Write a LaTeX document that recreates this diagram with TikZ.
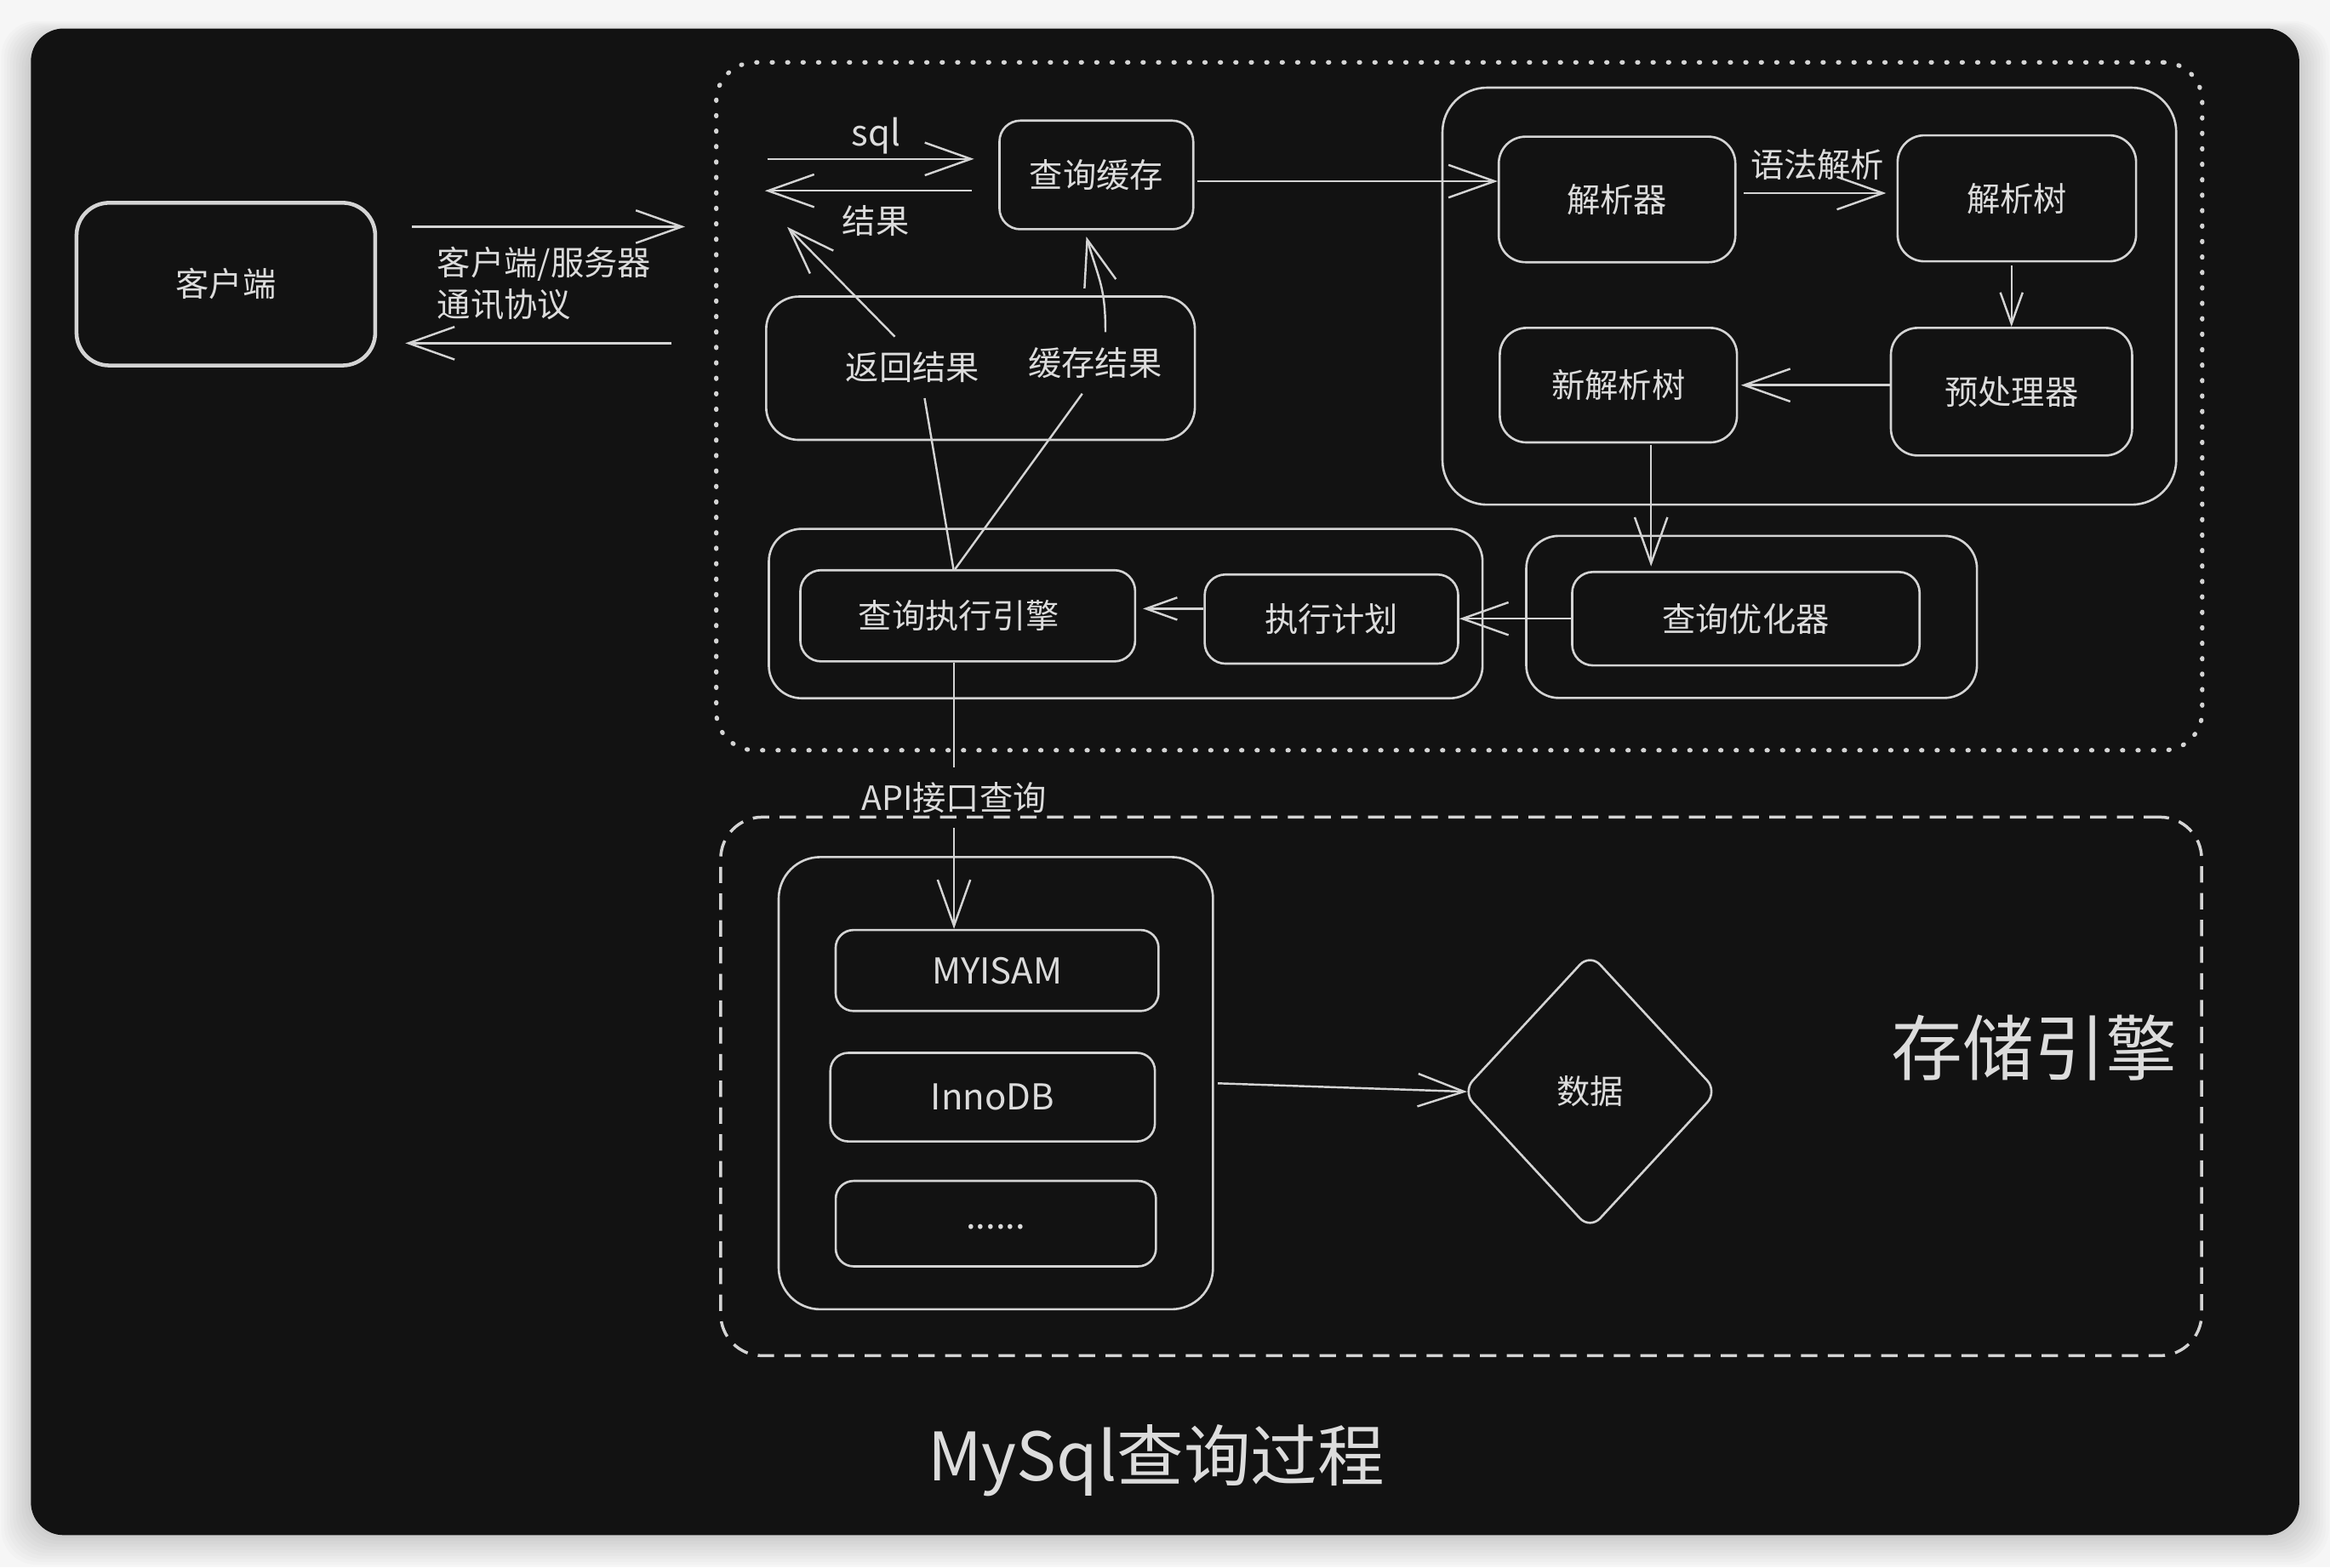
\documentclass[tikz,border=0pt]{standalone}
\usepackage{fontspec}
\setmainfont{Noto Sans CJK SC}
\usetikzlibrary{arrows.meta,shapes.geometric}
\definecolor{pagebg}{HTML}{F6F6F6}
\definecolor{panel}{HTML}{121212}
\definecolor{lc}{HTML}{D4D4D4}
\definecolor{tc}{HTML}{DCDCDC}
\newcommand\mylbl{\fontsize{22.5}{28}\selectfont}
\newcommand\mylat{\fontsize{24}{28}\selectfont}
\tikzset{
  box/.style={draw=lc, line width=1.5pt, rounded corners=14pt, text=tc, font=\mylbl, inner sep=0pt},
  grp/.style={draw=lc, line width=1.5pt, rounded corners=24pt, inner sep=0pt},
  lab/.style={text=tc, font=\mylbl, inner sep=0pt},
  ln/.style={draw=lc, line width=1.4pt},
  arr/.style={draw=lc, line width=1.4pt, -{Straight Barb[length=31pt,width=22pt]}},
  arrs/.style={draw=lc, line width=1.4pt, -{Straight Barb[length=21pt,width=15pt]}},
  dotbox/.style={draw=lc, line width=3pt, dash pattern=on 0.6pt off 9.8pt, line cap=round, rounded corners=26pt, inner sep=0pt},
  dashbox/.style={draw=lc, line width=2pt, dash pattern=on 11pt off 7pt, rounded corners=28pt, inner sep=0pt},
}
\begin{document}
\begin{tikzpicture}[x=1pt,y=-1pt]
\useasboundingbox (0,0) rectangle (1568,1055);
% page and panel
\fill[pagebg] (0,0) rectangle (1568,1055);
\foreach \s in {2,4,...,20}{
  \fill[black,opacity=0.016,rounded corners=24pt] (20.8-\s,19.2-0.5*\s+5) rectangle (1547.3+\s,1033.3+\s);
}
\fill[panel, rounded corners=22pt] (20.8,19.2) rectangle (1547.3,1033.3);

% containers
\node[dotbox, minimum width=1000pt, minimum height=463pt] (server) at (982,273.5) {};
\node[dashbox, minimum width=996.6pt, minimum height=362.5pt] (enginezone) at (983.3,731.25) {};

% client
\node[box, minimum width=201pt, minimum height=109.5pt, line width=2.6pt, rounded corners=22pt] (client) at (152,191.25) {客户端};
\coordinate (cin) at (461,152.6);
\coordinate (cout) at (452,231);
\draw[arr, shorten <=23.5pt] (client.east |- cin) -- (cin);
\draw[arr, shorten >=19pt] (cout) -- (client.east |- cout);
\node[lab, anchor=west, align=left] (proto) at (294,191) {客户端/服务器\\通讯协议};

% query cache
\node[box, minimum width=130.4pt, minimum height=73.1pt] (cache) at (737.8,117.75) {查询缓存};
\coordinate (sqlA) at (516.3,107);
\draw[arr, shorten >=16.4pt] (sqlA) -- (sqlA -| cache.west);
\node[lab, font=\mylat] (sqltxt) at (589.4,91.4) {sql};
\coordinate (resB) at (514.8,128.4);
\draw[arr, shorten <=18pt] (resB -| cache.west) -- (resB);
\node[lab] (restxt) at (589.4,148.4) {结果};

% parser group
\node[grp, rounded corners=30pt, minimum width=493.8pt, minimum height=280.7pt] (pgroup) at (1217.6,199.35) {};
\node[box, rounded corners=18pt, minimum width=159.2pt, minimum height=84.5pt] (parser) at (1088.2,134.25) {解析器};
\node[box, rounded corners=18pt, minimum width=160.5pt, minimum height=84.8pt] (ptree) at (1357.25,133.5) {解析树};
\node[box, rounded corners=18pt, minimum width=159.6pt, minimum height=77.1pt] (newtree) at (1089.1,259.25) {新解析树};
\node[box, rounded corners=18pt, minimum width=162.3pt, minimum height=85.9pt] (prep) at (1353.65,263.65) {预处理器};
\node[lab] (syn) at (1223,110.7) {语法解析};

\coordinate (cpy) at (0,122);
\coordinate (prow) at (0,130);
\draw[arr, shorten <=2pt] (cache.east |- cpy) -- (parser.west |- cpy);
\draw[arr, shorten <=5pt, shorten >=7pt] (parser.east |- prow) -- (ptree.west |- prow);
\draw[arrs, shorten <=2pt] (prep.north |- ptree.south) -- (prep.north);
\draw[arr, shorten >=2pt] (prep.west |- newtree.east) -- (newtree.east);

% optimizer
\node[grp, rounded corners=22pt, minimum width=303.3pt, minimum height=109.1pt] (ogroup) at (1178.75,415.25) {};
\node[box, minimum width=233.8pt, minimum height=62.9pt] (opt) at (1174.9,416.45) {查询优化器};
\draw[arr, shorten <=1pt, shorten >=3pt] ([xshift=22pt]newtree.south) -- ([xshift=22pt]newtree.south |- opt.north);

% execution
\node[grp, rounded corners=22pt, minimum width=480.3pt, minimum height=114pt] (egroup) at (757.55,413) {};
\node[box, minimum width=225.3pt, minimum height=61.4pt] (engine) at (651.25,414.5) {\hspace*{-12pt}查询执行引擎};
\node[box, minimum width=170.6pt, minimum height=60pt] (plan) at (896,416.7) {执行计划};
\draw[arr] (opt.west) -- (opt.west -| plan.east);
\draw[arrs, shorten >=4.5pt] ([yshift=7pt]plan.west) -- ([yshift=7pt]plan.west -| engine.east);

% results group
\node[grp, rounded corners=22pt, minimum width=288.5pt, minimum height=96.5pt] (rgroup) at (659.85,247.85) {};
\node[lab, minimum height=41pt] (ret) at (614.2,247.3) {返回结果};
\node[lab, minimum height=41pt] (crs) at (736.9,244.3) {缓存结果};
\coordinate (retend) at (529.8,152.8);
\draw[ln] ([xshift=-9.6pt]engine.north) -- ([xshift=8pt]ret.south);
\draw[arr] ([xshift=-12pt]ret.north) -- (retend);
\draw[ln] ([xshift=-8.5pt]engine.north) -- ([xshift=-8.6pt]crs.south);
\draw[arr, shorten >=4.4pt] ([xshift=7pt]crs.north) .. controls +(0,-30) and +(10,34) .. ([xshift=-8pt]cache.south);

% API
\node[lab, minimum height=40.4pt] (api) at (642,537) {API接口查询};

% storage engines
\node[grp, rounded corners=28pt, minimum width=292.3pt, minimum height=304.4pt] (storage) at (670.15,729.1) {};
\node[box, rounded corners=12pt, minimum width=217.3pt, minimum height=54.5pt, font=\mylat] (myisam) at (671,653.25) {MYISAM};
\node[box, rounded corners=12pt, minimum width=218.4pt, minimum height=59.6pt, font=\mylat] (innodb) at (668,738.5) {InnoDB};
\node[box, rounded corners=12pt, minimum width=215.5pt, minimum height=57.5pt, font=\mylat] (more) at (670.15,823.65) {\raisebox{-7pt}{......}};
\draw[ln] (engine.south -| api) -- (api.north);
\draw[arr] (api.south) -- (api.south |- myisam.north);

\node[draw=lc, line width=1.5pt, diamond, minimum width=172pt, minimum height=186pt, rounded corners=10pt, inner sep=0pt, text=tc, font=\mylbl] (data) at (1070,734.7) {数据};
\draw[arr, shorten <=2.5pt, shorten >=-4pt] (storage.east) -- (data.west);

\node[text=tc, inner sep=0pt, font=\fontsize{48}{54}\selectfont] (selabel) at (1369,705.5) {存储引擎};
\node[text=tc, inner sep=0pt, font=\fontsize{45}{50}\selectfont] (title) at (778,983) {MySql查询过程};
\end{tikzpicture}
\end{document}
